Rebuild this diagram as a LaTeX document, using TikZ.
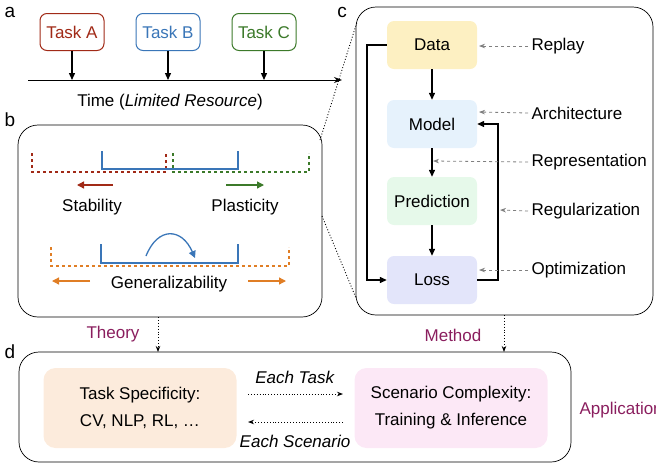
\documentclass[tikz,border=0pt]{standalone}
\usepackage{fontspec}
\setmainfont{Liberation Sans}
\usetikzlibrary{arrows.meta}
\definecolor{cred}{HTML}{A12A17}
\definecolor{cblue}{HTML}{3A76B8}
\definecolor{cgreen}{HTML}{3C7A2A}
\definecolor{corange}{HTML}{E07E25}
\definecolor{cpurple}{HTML}{8A1E5E}
\definecolor{fdata}{HTML}{FDF0C2}
\definecolor{fmodel}{HTML}{E6F2FC}
\definecolor{fpred}{HTML}{E6F9EA}
\definecolor{floss}{HTML}{E3E5FA}
\definecolor{ftask}{HTML}{FCEBDC}
\definecolor{fscen}{HTML}{FCE8F6}
\begin{document}
\begin{tikzpicture}[x=1pt,y=-1pt,font=\fontsize{17}{19}\selectfont,
 panel/.style={draw,rounded corners=20pt,line width=0.7pt},
 task/.style={draw,rounded corners=7pt,line width=1pt,minimum width=64pt,minimum height=37pt,fill=white},
 blk/.style={rounded corners=7pt,minimum width=90pt,minimum height=48pt},
 big/.style={rounded corners=12pt,minimum height=80pt},
 lab/.style={font=\fontsize{19}{21}\selectfont},
 arr/.style={-{Triangle[length=7pt,width=6pt]},line width=1.3pt},
 garr/.style={-{Stealth[length=6pt]},gray,dashed,line width=0.8pt},
 dot/.style={dotted,line width=0.9pt},
 darr/.style={dotted,line width=0.9pt,-{Stealth[length=6pt]}},
 col/.style={line width=1.3pt,-{Triangle[length=7pt,width=7pt]}},
 brk/.style={dashed,line width=1.2pt},
 sbrk/.style={line width=1.3pt,cblue}]
\useasboundingbox (0,0) rectangle (656,464);
% panel a
\node[lab] (la) at (10,12) {a};
\node[task,draw=cred,text=cred] (ta) at (72,32) {Task A};
\node[task,draw=cblue,text=cblue] (tb) at (168,32) {Task B};
\node[task,draw=cgreen,text=cgreen] (tc) at (264,32) {Task C};
\coordinate (t0) at (28,80); \coordinate (t1) at (342,80);
\draw[-{Stealth[length=8pt]},line width=1pt] (t0) -- (t1);
\foreach \n/\x in {ta/72,tb/168,tc/264}{\draw[arr] (\n.south) -- (\x,80);}
\node (time) at (170,102) {Time (\textit{Limited Resource})};
% panel b
\node[lab] (lb) at (10,120) {b};
\draw[panel] (18,125) rectangle (322,317);
\draw[brk,cred] (32,153) -- (32,172) -- (166,172) -- (166,153);
\draw[brk,cgreen] (173,153) -- (173,172) -- (309,172) -- (309,153);
\draw[sbrk] (102,151) -- (102,169) -- (238,169) -- (238,151);
\coordinate (rs) at (113,185); \coordinate (re) at (77,185);
\draw[col,cred] (rs) -- (re);
\coordinate (gs) at (226,185); \coordinate (ge) at (264,185);
\draw[col,cgreen] (gs) -- (ge);
\node (stab) at (92,207) {Stability};
\node (plas) at (245,207) {Plasticity};
\draw[brk,corange] (51,247) -- (51,266) -- (289,266) -- (289,247);
\draw[sbrk] (101,244) -- (101,263) -- (238,263) -- (238,244);
\coordinate (cs) at (146,256); \coordinate (ce) at (195,258);
\draw[sbrk,-{Triangle[length=7pt,width=7pt]}] (cs) .. controls (158,226) and (182,228) .. (ce);
\coordinate (os) at (90,281); \coordinate (oe) at (52,281);
\draw[col,corange] (os) -- (oe);
\coordinate (ps) at (248,281); \coordinate (pe) at (286,281);
\draw[col,corange] (ps) -- (pe);
\node (gen) at (169,284) {Generalizability};
% panel c
\node[lab] (lc) at (342,12) {c};
\draw[panel] (356,7) rectangle (653,315);
\draw[dot] (320,140) -- (357,22);
\draw[dot] (322,216) -- (356,298);
\node[blk,fill=fdata] (data) at (432,45) {Data};
\node[blk,fill=fmodel] (model) at (432,124) {Model};
\node[blk,fill=fpred] (pred) at (432,201) {Prediction};
\node[blk,fill=floss] (loss) at (432,280) {Loss};
\draw[arr] (data) -- (model);
\draw[arr] (model) -- (pred);
\draw[arr] (pred) -- (loss);
\draw[arr] (data.west) -- (367,45) -- (367,280) -- (loss.west);
\draw[arr] (loss.east) -- (498,280) -- (498,124) -- (model.east);
\node[anchor=west] (rep) at (528,46) {Replay};
\node[anchor=west] (arc) at (528,113) {Architecture};
\node[anchor=west] (repr) at (528,162) {Representation};
\node[anchor=west] (reg) at (528,211) {Regularization};
\node[anchor=west] (opt) at (528,270) {Optimization};
\draw[garr] (rep.west) -- (479,46);
\draw[garr] (arc.west) -- (479,112);
\draw[garr] (repr.west) -- (433,161);
\draw[garr] (reg.west) -- (500,210);
\draw[garr] (opt.west) -- (479,270);
% panel d
\node[lab] (ld) at (10,352) {d};
\draw[panel] (19,352) rectangle (571,462);
\node[text=cpurple] (th) at (113,334) {Theory};
\node[text=cpurple] (me) at (453,335) {Method};
\coordinate (b1) at (158,317); \coordinate (b2) at (158,352);
\draw[darr] (b1) -- (b2);
\coordinate (c1) at (504,315); \coordinate (c2) at (504,352);
\draw[darr] (c1) -- (c2);
\node[big,fill=ftask,minimum width=193pt,align=center] (ts) at (140,408) {Task Specificity:\\[8pt]CV, NLP, RL, \dots};
\node[big,fill=fscen,minimum width=193pt,align=center] (sc) at (451,408) {Scenario Complexity:\\[8pt]Training \& Inference};
\coordinate (e1) at (248,394); \coordinate (e2) at (343,394);
\draw[darr] (e1) -- (e2);
\coordinate (f1) at (343,422); \coordinate (f2) at (248,422);
\draw[darr] (f1) -- (f2);
\node (et) at (295,377) {\textit{Each Task}};
\node (es) at (295,441) {\textit{Each Scenario}};
\node[text=cpurple,anchor=west] (app) at (576,410) {Application};
\end{tikzpicture}
\end{document}
